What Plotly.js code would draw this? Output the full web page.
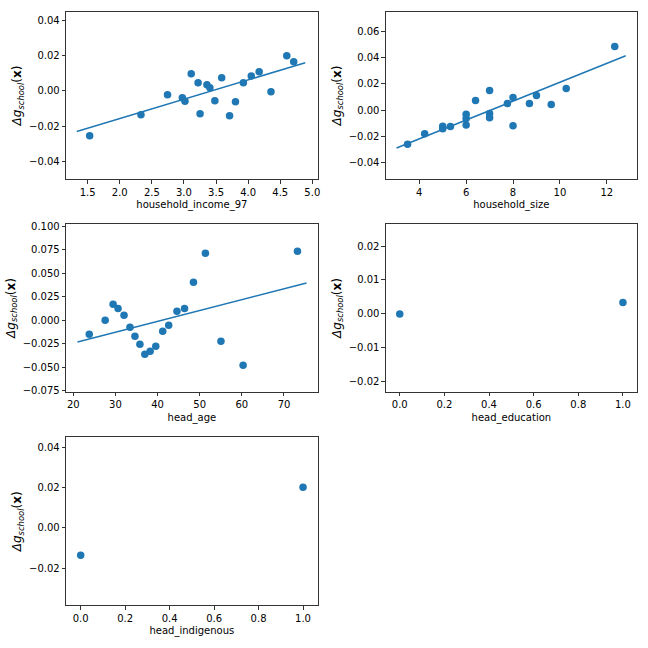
<!DOCTYPE html>
<html>
<head>
<meta charset="utf-8">
<script src="https://cdn.plot.ly/plotly-3.0.1.min.js"></script>
<style>html,body{margin:0;padding:0;background:#fff;}#chart{width:648px;height:648px;}</style>
</head>
<body>
<div id="chart"></div>
<script>
// ---- data ----
const incomeX = [1.531, 2.330, 2.744, 2.975, 3.016, 3.113, 3.220, 3.251, 3.358, 3.404, 3.481, 3.588, 3.711, 3.803, 3.926, 4.049, 4.172, 4.356, 4.602, 4.710];
const incomeY = [-0.0253, -0.0135, -0.0022, -0.0039, -0.0059, 0.0097, 0.0046, -0.0129, 0.0035, 0.0018, -0.0056, 0.0074, -0.0140, -0.0061, 0.0046, 0.0084, 0.0108, -0.0005, 0.0199, 0.0165];
const incomeLineX = [1.33, 4.89];
const incomeLineY = [-0.0229, 0.0159];

const sizeX = [3.50, 4.23, 5.0, 5.0, 5.33, 6.0, 6.0, 6.0, 6.40, 7.0, 7.0, 7.0, 7.76, 8.0, 8.0, 8.70, 9.0, 9.63, 10.27, 12.34];
const sizeY = [-0.0259, -0.0178, -0.0122, -0.0140, -0.0124, -0.0030, -0.0063, -0.0112, 0.0074, 0.0150, -0.0025, -0.0058, 0.0051, 0.0096, -0.0117, 0.0051, 0.0112, 0.0043, 0.0165, 0.0485];
const sizeLineX = [3.03, 12.81];
const sizeLineY = [-0.0287, 0.0414];

const ageX = [23.79, 27.56, 29.45, 30.62, 32.04, 33.45, 34.63, 35.81, 36.98, 38.24, 39.57, 41.22, 42.64, 44.60, 46.40, 48.52, 51.35, 55.04, 60.3, 73.2];
const ageY = [-0.0149, 0.0000, 0.0170, 0.0127, 0.0053, -0.0074, -0.0170, -0.0255, -0.0361, -0.0329, -0.0276, -0.0117, -0.0053, 0.0096, 0.0127, 0.0404, 0.0712, -0.0223, -0.0478, 0.0733];
const ageLineX = [21.0, 75.35];
const ageLineY = [-0.0230, 0.0397];

const eduX = [0, 1];
const eduY = [0.0000, 0.0034];

const indigX = [0, 1];
const indigY = [-0.0136, 0.0202];

const xLabels = ["household_income_97", "household_size", "head_age", "head_education", "head_indigenous"];
const yLabel = "<i>Δg</i><sub><i>school</i></sub>(<b>x</b>)";

// ---- styling ----
const blue = "#1f77b4";
const font = {family: "DejaVu Sans, sans-serif", size: 10, color: "#000"};
const yTitleFont = {family: "DejaVu Sans, sans-serif", size: 12, color: "#000"};

function pts(x, y, xa, ya) {
  return {x: x, y: y, xaxis: xa, yaxis: ya, type: "scatter", mode: "markers",
          marker: {color: blue, size: 7.5, line: {width: 0}}, hoverinfo: "skip", showlegend: false};
}
function ln(x, y, xa, ya) {
  return {x: x, y: y, xaxis: xa, yaxis: ya, type: "scatter", mode: "lines",
          line: {color: blue, width: 1.5}, hoverinfo: "skip", showlegend: false};
}

function axis(domain, range, dtick, fmt, title, anchor, tfont) {
  return {
    domain: domain, range: range, dtick: dtick, tick0: 0, tickformat: fmt,
    showgrid: false, zeroline: false, showline: true, mirror: true,
    linecolor: "#000", linewidth: 0.8, ticks: "outside", ticklen: 3.5, tickwidth: 0.8,
    tickcolor: "#000", tickfont: font, anchor: anchor,
    title: {text: title, font: tfont || font, standoff: 4}, automargin: false
  };
}

const c1 = [66/648, 317.7/648];
const c2 = [385.7/648, 637/648];
const r1 = [1 - 179.3/648, 1 - 11.7/648];
const r2 = [1 - 391.7/648, 1 - 224.3/648];
const r3 = [1 - 605.3/648, 1 - 437.3/648];

const data = [
  ln(incomeLineX, incomeLineY, "x", "y"), pts(incomeX, incomeY, "x", "y"),
  ln(sizeLineX, sizeLineY, "x2", "y2"), pts(sizeX, sizeY, "x2", "y2"),
  ln(ageLineX, ageLineY, "x3", "y3"), pts(ageX, ageY, "x3", "y3"),
  pts(eduX, eduY, "x4", "y4"),
  pts(indigX, indigY, "x5", "y5")
];

const layout = {
  width: 648, height: 648, margin: {l: 0, r: 0, t: 0, b: 0},
  paper_bgcolor: "#fff", plot_bgcolor: "#fff", font: font, showlegend: false,
  xaxis:  axis(c1, [1.162, 5.084], 0.5, ".1f", xLabels[0], "y"),
  yaxis:  axis(r1, [-0.0499, 0.0447], 0.02, ".2f", yLabel, "x", yTitleFont),
  xaxis2: axis(c2, [2.567, 13.29], 2, "d", xLabels[1], "y2"),
  yaxis2: axis(r1, [-0.0525, 0.0749], 0.02, ".2f", yLabel, "x2", yTitleFont),
  xaxis3: axis(c1, [18.27, 78.0], 10, "d", xLabels[2], "y3"),
  yaxis3: axis(r2, [-0.0758, 0.102], 0.025, ".3f", yLabel, "x3", yTitleFont),
  xaxis4: axis(c2, [-0.063, 1.063], 0.2, ".1f", xLabels[3], "y4"),
  yaxis4: axis(r2, [-0.0229, 0.0264], 0.01, ".2f", yLabel, "x4", yTitleFont),
  xaxis5: axis(c1, [-0.066, 1.066], 0.2, ".1f", xLabels[4], "y5"),
  yaxis5: axis(r3, [-0.0385, 0.0451], 0.02, ".2f", yLabel, "x5", yTitleFont)
};

Plotly.newPlot("chart", data, layout, {staticPlot: true, displayModeBar: false});
</script>
</body>
</html>
